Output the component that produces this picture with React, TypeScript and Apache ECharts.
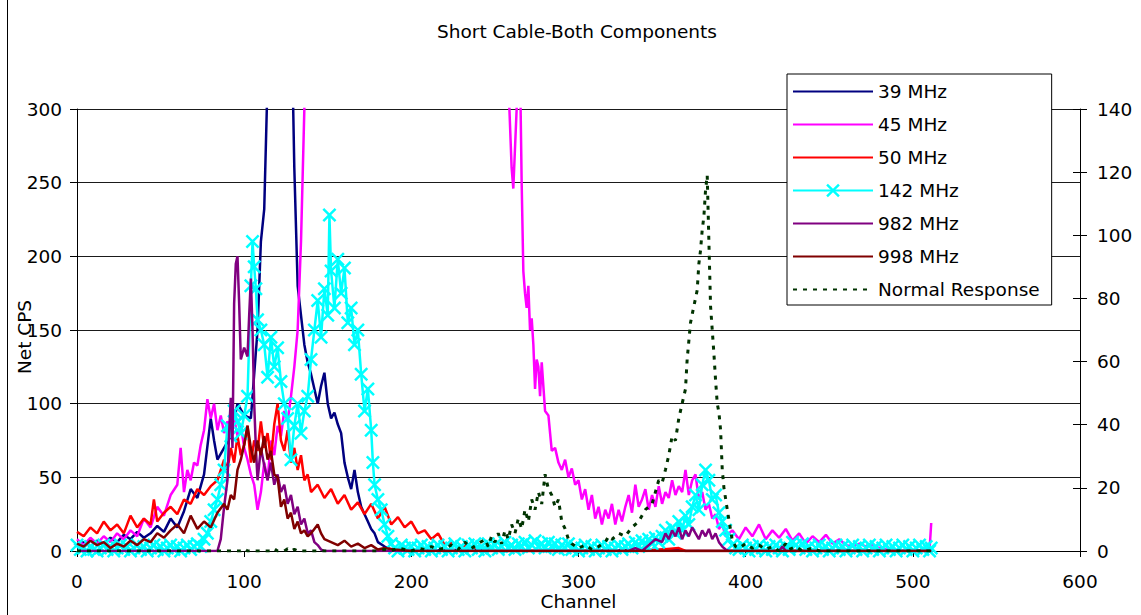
import React, { useEffect, useRef } from "react";
import * as echarts from "echarts";

const FONT = "'DejaVu Sans', 'Liberation Sans', sans-serif";
const FONT_SIZE = 18.5;
const TITLE = "Short Cable-Both Components";
const X_NAME = "Channel";
const Y_NAME = "Net CPS";

const seriesNames = ["39 MHz", "45 MHz", "50 MHz", "142 MHz", "982 MHz", "998 MHz", "Normal Response"];
const seriesColors = ["#000080", "#FF00FF", "#FF0000", "#00FFFF", "#800080", "#800000", "#003300"];

// [channel, Net CPS]
const mhz39 = [
  [0, 4], [4, 6], [8, 3], [12, 7], [16, 5], [20, 9], [24, 6], [28, 11], [32, 8], [36, 13], [40, 9], [44, 12],
  [48, 17], [52, 13], [56, 22], [60, 16], [64, 27], [68, 42], [72, 36], [76, 52], [80, 90], [82, 75], [84, 62],
  [88, 70], [92, 78], [96, 100], [100, 92], [104, 90], [106, 120], [108, 150], [110, 210], [112, 232], [114, 320],
  [116, 420], [120, 520], [124, 520], [128, 380], [130, 260], [132, 180], [134, 160], [136, 140], [138, 128],
  [140, 120], [142, 110], [144, 100], [146, 112], [148, 121], [150, 100], [152, 90], [154, 94], [156, 86],
  [158, 80], [160, 60], [162, 50], [164, 42], [166, 55], [168, 40], [170, 30], [172, 25], [174, 20], [176, 15],
  [178, 12], [180, 6], [184, 3], [188, 1], [192, 0], [240, 1], [244, 0], [300, 0], [360, 1], [364, 0], [511, 0],
];

const mhz45 = [
  [0, 8], [4, 4], [8, 9], [12, 5], [16, 10], [20, 6], [24, 12], [28, 8], [32, 14], [36, 10], [40, 22], [44, 16],
  [48, 30], [52, 24], [56, 38], [60, 45], [62, 70], [64, 40], [66, 55], [68, 48], [70, 60], [72, 58], [74, 72],
  [76, 82], [78, 103], [80, 90], [82, 100], [84, 82], [86, 92], [88, 80], [90, 88], [92, 84], [94, 90], [96, 78],
  [98, 86], [100, 70], [102, 62], [104, 52], [106, 45], [108, 28], [110, 40], [112, 60], [114, 48], [116, 75],
  [118, 65], [120, 85], [122, 78], [124, 95], [126, 88], [128, 105], [130, 125], [132, 150], [134, 210],
  [136, 300], [138, 450], [140, 600], [150, 800], [200, 900], [250, 700], [256, 400], [258, 320], [260, 260],
  [261, 246], [263, 300], [264, 400], [265, 330], [266, 250], [267, 190], [268, 175], [269, 165], [270, 180],
  [271, 150], [272, 158], [273, 140], [274, 110], [275, 130], [276, 125], [277, 105], [278, 128], [280, 95],
  [282, 92], [284, 68], [286, 70], [288, 60], [290, 55], [292, 62], [294, 50], [296, 56], [298, 45], [300, 48],
  [302, 35], [304, 42], [306, 28], [308, 38], [310, 22], [312, 30], [314, 18], [316, 28], [318, 22], [320, 32],
  [322, 18], [324, 28], [326, 20], [328, 30], [330, 38], [332, 26], [334, 45], [336, 30], [338, 35], [340, 42],
  [342, 28], [344, 38], [346, 30], [348, 44], [350, 32], [352, 40], [354, 36], [356, 48], [358, 38], [360, 44],
  [362, 40], [364, 55], [366, 38], [368, 48], [370, 52], [372, 35], [374, 40], [376, 28], [378, 32], [380, 22],
  [382, 25], [384, 15], [386, 18], [388, 10], [392, 14], [396, 8], [400, 16], [404, 10], [408, 18], [412, 8],
  [416, 14], [420, 9], [424, 15], [428, 7], [432, 12], [436, 5], [440, 10], [444, 6], [448, 11], [452, 5],
  [456, 8], [460, 4], [464, 3], [468, 5], [472, 3], [476, 4], [480, 2], [484, 1], [488, 0], [508, 0], [510, 1],
  [511, 19],
];

const mhz50 = [
  [0, 13], [4, 10], [8, 16], [12, 12], [16, 20], [20, 14], [24, 18], [28, 12], [32, 24], [36, 16], [40, 22],
  [44, 18], [46, 35], [48, 20], [52, 26], [56, 30], [60, 25], [64, 35], [68, 32], [72, 42], [76, 38], [80, 44],
  [84, 48], [88, 62], [90, 55], [92, 70], [94, 60], [96, 78], [98, 65], [100, 72], [102, 85], [104, 60],
  [106, 75], [108, 68], [110, 88], [112, 70], [114, 80], [116, 62], [118, 86], [120, 100], [122, 75], [124, 68],
  [126, 82], [128, 60], [130, 70], [132, 55], [134, 65], [136, 48], [138, 52], [140, 40], [144, 45], [148, 36],
  [152, 42], [156, 32], [160, 38], [164, 28], [168, 33], [172, 25], [176, 32], [180, 22], [184, 30], [188, 18],
  [192, 23], [196, 16], [200, 20], [204, 12], [208, 14], [212, 8], [216, 12], [220, 4], [224, 6], [228, 2],
  [232, 4], [236, 1], [240, 3], [250, 0], [340, 0], [360, 2], [364, 0], [508, 0], [511, 3],
];

const mhz142 = [
  [0, 4], [2, 1], [4, 2], [6, 0], [8, 3], [10, 1], [12, 0], [14, 2], [16, 4], [18, 1], [20, 3], [22, 0],
  [24, 2], [26, 4], [28, 1], [30, 3], [32, 0], [34, 2], [36, 4], [38, 1], [40, 3], [42, 0], [44, 2], [46, 4],
  [48, 1], [50, 3], [52, 0], [54, 2], [56, 4], [58, 1], [60, 3], [62, 0], [64, 2], [66, 4], [68, 1], [70, 3],
  [72, 5], [74, 3], [76, 8], [78, 12], [80, 20], [82, 28], [84, 35],
  [86, 45], [88, 55], [90, 85], [92, 78], [94, 95], [96, 88], [98, 80], [100, 92], [102, 105], [104, 180],
  [105, 210], [106, 193], [107, 178], [108, 157], [110, 150], [112, 140], [114, 118], [116, 145], [118, 125],
  [120, 138], [122, 115], [124, 100], [126, 90], [128, 62], [130, 85], [132, 100], [134, 80], [136, 95],
  [138, 105], [140, 130], [142, 150], [144, 170], [146, 145], [148, 178], [150, 160], [151, 228], [152, 190],
  [154, 165], [156, 198], [158, 175], [160, 192], [162, 155], [164, 165], [166, 140], [168, 150], [170, 120],
  [172, 95], [174, 110], [176, 82], [177, 60], [178, 45], [180, 35], [182, 28], [184, 18], [186, 10], [188, 5],
  [190, 2], [192, 0], [194, 4], [196, 2], [198, 1], [200, 3], [202, 0], [204, 2], [206, 4], [208, 1], [210, 3],
  [212, 0], [214, 2], [216, 4], [218, 1], [220, 3], [222, 0], [224, 2], [226, 5], [228, 1], [230, 3], [232, 0],
  [234, 4], [236, 2], [238, 5], [240, 1], [242, 3], [244, 0], [246, 5], [248, 2], [250, 4], [252, 1], [254, 3],
  [256, 6], [258, 2], [260, 4], [262, 1], [264, 5], [266, 3], [268, 6], [270, 2], [272, 4], [274, 7], [276, 3],
  [278, 5], [280, 2], [282, 6], [284, 3], [286, 5], [288, 1], [290, 4], [292, 2], [294, 5], [296, 1], [298, 3],
  [300, 0], [302, 2], [304, 4], [306, 1], [308, 3], [310, 0], [312, 2], [314, 4], [316, 1], [318, 3], [320, 0],
  [322, 2], [324, 4], [326, 1], [328, 3], [330, 5], [332, 2], [334, 6], [336, 3], [338, 7], [340, 4], [342, 8],
  [344, 5], [346, 9], [348, 6], [350, 10], [352, 14], [354, 8],
  [356, 16], [358, 12], [360, 20], [362, 14], [364, 24], [366, 18], [368, 30], [370, 38], [372, 28], [374, 45],
  [376, 55], [378, 48], [380, 35], [382, 38], [384, 26], [386, 20], [388, 14], [390, 8], [392, 4], [394, 2],
  [396, 1], [398, 4], [400, 2], [402, 0], [404, 3], [406, 1], [408, 4], [410, 2], [412, 0], [414, 3], [416, 1],
  [418, 4], [420, 2], [422, 0], [424, 3], [426, 1], [428, 6], [430, 4], [432, 2], [434, 5], [436, 1], [438, 3],
  [440, 0], [442, 2], [444, 4], [446, 1], [448, 3], [450, 0], [452, 2], [454, 4], [456, 1], [458, 3], [460, 0],
  [462, 2], [464, 4], [466, 1], [468, 3], [470, 0], [472, 2], [474, 4], [476, 1], [478, 3], [480, 0], [482, 2],
  [484, 4], [486, 1], [488, 3], [490, 0], [492, 2], [494, 4], [496, 1], [498, 3], [500, 0], [502, 2], [504, 4],
  [506, 1], [508, 3], [510, 0], [511, 2],
];

const mhz982 = [
  [0, 0], [84, 0], [86, 8], [88, 30], [90, 48], [91, 80], [92, 104], [93, 70], [94, 168], [95, 195], [96, 200],
  [97, 168], [98, 130], [100, 138], [102, 132], [103, 160], [104, 185], [105, 150], [106, 100], [107, 70],
  [108, 48], [110, 70], [112, 58], [114, 48], [116, 60], [118, 45], [120, 52], [122, 40], [124, 45], [126, 32],
  [128, 38], [130, 25], [132, 30], [134, 18], [136, 22], [138, 12], [140, 14], [142, 6], [144, 4], [146, 1],
  [148, 0], [330, 0], [334, 2], [338, 0], [342, 4], [346, 8], [350, 6], [352, 12], [354, 8], [356, 14],
  [358, 10], [360, 16], [362, 8], [364, 14], [366, 10], [368, 16], [370, 12], [372, 8], [374, 14], [376, 10],
  [378, 15], [380, 8], [382, 12], [384, 6], [386, 3], [388, 1], [390, 0], [420, 0], [422, 3], [424, 0], [511, 0],
];

const mhz998 = [
  [0, 5], [4, 3], [8, 7], [12, 4], [16, 6], [20, 2], [24, 5], [28, 3], [32, 7], [36, 4], [40, 8], [44, 6],
  [48, 12], [52, 9], [56, 14], [60, 18], [64, 12], [68, 24], [72, 15], [76, 20], [80, 16], [84, 26], [88, 32],
  [90, 28], [92, 38], [94, 35], [96, 55], [98, 62], [100, 72], [102, 85], [104, 70], [106, 60], [108, 75],
  [110, 65], [112, 78], [114, 62], [116, 68], [118, 52], [120, 50], [122, 30], [124, 35], [126, 22], [128, 26],
  [130, 15], [132, 20], [134, 12], [136, 14], [138, 10], [140, 12], [142, 15], [144, 18], [146, 12], [148, 8],
  [152, 6], [156, 4], [160, 7], [164, 3], [168, 5], [172, 2], [176, 4], [180, 1], [184, 2], [190, 1], [200, 0],
  [511, 0],
];

// [channel, response] on the right-hand axis
const normalResponse = [
  [0, 0], [98, 0], [100, 0.7], [102, 0], [116, 0], [118, 0.7], [120, 0], [124, 0], [126, 0.7], [128, 0],
  [130, 0.5], [132, 0], [180, 0], [184, 0.5], [188, 0], [192, 0.9], [196, 0.5], [200, 0], [204, 0.9], [208, 0.5],
  [212, 1.4], [216, 0.5], [220, 0.9], [224, 1.9], [228, 0.5], [232, 2.8], [236, 0.9], [240, 2.3], [244, 3.7],
  [246, 1.4], [248, 4.7], [250, 2.8], [252, 5.6], [254, 2.3], [256, 6.5], [258, 3.7], [260, 8.4], [262, 5.6],
  [264, 10.3], [266, 7], [268, 13.1], [270, 9.3], [272, 16.3], [274, 13.1], [276, 18.7], [278, 14.9],
  [280, 24.3], [282, 19.6], [284, 17.7], [286, 14], [288, 16.3], [290, 9.3], [292, 7], [294, 3.7], [296, 2.3],
  [300, 0.9], [304, 1.9], [308, 0.5], [312, 1.4], [316, 2.8], [318, 4.7], [320, 3.7], [324, 5.6], [328, 4.7],
  [332, 7.5], [336, 9.3], [340, 13.1], [344, 14.9], [348, 22.4], [350, 21.5], [352, 25.7], [354, 30.3],
  [356, 36.4], [358, 35], [360, 42], [362, 46.7], [364, 51.3], [365, 60.7], [367, 72.3], [369, 77.5],
  [371, 82.6], [372, 91], [373, 95.2], [374, 101.7], [375, 105.9], [376, 114.3], [377, 119], [378, 98],
  [379, 77.5], [380, 70], [381, 62.5], [382, 54.1], [383, 46.7], [384, 43.9], [385, 38.3], [386, 25.7],
  [387, 20], [389, 13.1], [390, 9.8], [392, 3.3], [394, 1.4], [396, 0.9], [400, 2.3], [404, 0.9], [408, 1.9],
  [412, 0.5], [416, 1.4], [420, 0], [424, 2.3], [426, 0.5], [430, 1.4], [434, 0], [440, 0.9], [444, 0], [511, 0],
];

const seriesData = [mhz39, mhz45, mhz50, mhz142, mhz982, mhz998, normalResponse];

const X_MARK = "path://M2.5,0L10,7.5L17.5,0L20,2.5L12.5,10L20,17.5L17.5,20L10,12.5L2.5,20L0,17.5L7.5,10L0,2.5Z";

export default function App() {
  const ref = useRef<HTMLDivElement>(null);

  useEffect(() => {
    const chart = echarts.init(ref.current!, null, { renderer: "svg" });
    const txt = { fontFamily: FONT, fontSize: FONT_SIZE, color: "#000" };

    const series = seriesNames.map((name, i) => {
      const isCyan = i === 3;
      const isNormal = i === 6;
      return {
        type: "line",
        name,
        data: seriesData[i],
        yAxisIndex: isNormal ? 1 : 0,
        symbol: isCyan ? X_MARK : "none",
        symbolSize: isCyan ? 14 : 0,
        showSymbol: isCyan,
        clip: true,
        lineStyle: {
          color: seriesColors[i],
          width: isNormal ? 3 : 2.5,
          type: isNormal ? [4, 6] : "solid",
        },
        itemStyle: { color: seriesColors[i] },
        emphasis: { disabled: true },
        z: 2 + i * 0.01,
      };
    });

    const legendData = seriesNames.map((name, i) =>
      i === 3
        ? { name }
        : { name, itemStyle: { color: "rgba(0,0,0,0)", borderColor: "rgba(0,0,0,0)", borderWidth: 0 } }
    );

    chart.setOption({
      animation: false,
      backgroundColor: "#fff",
      textStyle: { fontFamily: FONT },
      grid: { left: 77, right: 61, top: 109, bottom: 64, containLabel: false, outerBoundsMode: "none" },
      graphic: [
        {
          type: "text",
          x: 577,
          y: 22,
          style: {
            text: TITLE,
            font: `${FONT_SIZE}px ${FONT}`,
            fill: "#000",
            textAlign: "center",
            textVerticalAlign: "top",
          },
        },
        {
          type: "line",
          shape: { x1: 7.5, y1: 0, x2: 7.5, y2: 615 },
          style: { stroke: "#000", lineWidth: 1 },
        },
      ],
      legend: {
        orient: "vertical",
        left: 787,
        top: 74,
        data: legendData,
        itemWidth: 80,
        itemHeight: 17,
        itemGap: 14,
        padding: [8, 12, 6, 5],
        borderColor: "#000",
        borderWidth: 1,
        backgroundColor: "#fff",
        selectedMode: false,
        textStyle: { ...txt },
      },
      xAxis: {
        type: "value",
        min: 0,
        max: 600,
        interval: 100,
        name: X_NAME,
        nameLocation: "middle",
        nameGap: 41,
        nameMoveOverlap: false,
        nameTextStyle: { ...txt },
        axisLine: { lineStyle: { color: "#000", width: 1 } },
        axisTick: { length: 6, lineStyle: { color: "#000" } },
        axisLabel: { ...txt, margin: 21 },
        splitLine: { show: false },
      },
      yAxis: [
        {
          type: "value",
          min: 0,
          max: 300,
          interval: 50,
          name: Y_NAME,
          nameLocation: "middle",
          nameGap: 43,
          nameRotate: 90,
          nameMoveOverlap: false,
          nameTextStyle: { ...txt, padding: [0, 14, 0, 0] },
          axisLine: { show: true, lineStyle: { color: "#000", width: 1 } },
          axisTick: { show: true, length: 7, lineStyle: { color: "#000" } },
          axisLabel: { ...txt, margin: 15 },
          splitLine: { show: true, lineStyle: { color: "#1a1a1a", width: 1 } },
        },
        {
          type: "value",
          position: "right",
          min: 0,
          max: 140,
          interval: 20,
          axisLine: { show: true, lineStyle: { color: "#000", width: 1 } },
          axisTick: { show: true, length: 7, lineStyle: { color: "#000" } },
          axisLabel: { ...txt, margin: 17 },
          splitLine: { show: false },
        },
        {
          type: "value",
          position: "right",
          min: 0,
          max: 140,
          interval: 20,
          axisLine: { show: false },
          axisTick: { show: true, inside: true, length: 7, lineStyle: { color: "#000" } },
          axisLabel: { show: false },
          splitLine: { show: false },
        },
      ],
      series,
    });

    return () => chart.dispose();
  }, []);

  return (
    <div
      ref={ref}
      style={{ position: "fixed", left: 0, top: 0, width: 1141, height: 615, background: "#fff" }}
    />
  );
}
